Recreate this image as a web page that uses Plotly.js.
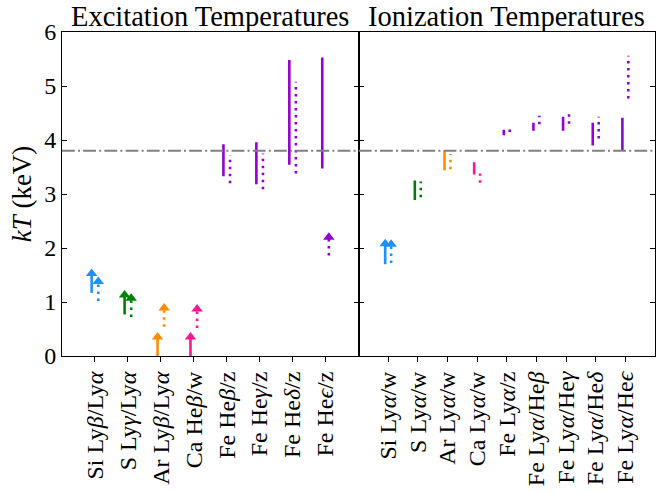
<!DOCTYPE html>
<html>
<head>
<meta charset="utf-8">
<script src="https://cdn.plot.ly/plotly-3.0.1.min.js"></script>
<style>html,body{margin:0;padding:0;background:#fff;}#chart{width:662px;height:493px;}</style>
</head>
<body>
<div id="chart"></div>
<script>
// ---- Data ----
const excCats = ['Si Ly<i>β</i>/Ly<i>α</i>', 'S Ly<i>γ</i>/Ly<i>α</i>', 'Ar Ly<i>β</i>/Ly<i>α</i>', 'Ca He<i>β</i>/w',
                 'Fe He<i>β</i>/z', 'Fe He<i>γ</i>/z', 'Fe He<i>δ</i>/z', 'Fe He<i>ϵ</i>/z'];
const excColors = ['#1e90ff', '#008000', '#ff8c00', '#ff1493', '#9400d3', '#9400d3', '#9400d3', '#9400d3'];
const excSolidLo = [1.17, 0.77, 0.00, 0.00, 3.33, 3.18, 3.54, 3.47];
const excSolidHi = [1.53, 1.13, 0.35, 0.35, 3.92, 3.96, 5.48, 5.53];
const excSolidLimit = [true, true, true, true, false, false, false, false];
const excDotLo = [1.02, 0.72, 0.54, 0.52, 3.20, 3.09, 3.38, 1.86];
const excDotHi = [1.38, 1.07, 0.89, 0.87, 3.72, 3.75, 5.08, 2.20];
const excDotLimit = [true, true, true, true, false, false, false, true];

const ionCats = ['Si Ly<i>α</i>/w', 'S Ly<i>α</i>/w', 'Ar Ly<i>α</i>/w', 'Ca Ly<i>α</i>/w', 'Fe Ly<i>α</i>/z',
                 'Fe Ly<i>α</i>/He<i>β</i>', 'Fe Ly<i>α</i>/He<i>γ</i>', 'Fe Ly<i>α</i>/He<i>δ</i>', 'Fe Ly<i>α</i>/He<i>ϵ</i>'];
const ionColors = ['#1e90ff', '#008000', '#ff8c00', '#ff1493', '#9400d3', '#9400d3', '#9400d3', '#9400d3', '#9400d3'];
const ionSolidLo = [1.70, 2.89, 3.44, 3.36, 4.09, 4.17, 4.17, 3.90, 3.81];
const ionSolidHi = [2.08, 3.25, 3.80, 3.59, 4.19, 4.32, 4.43, 4.32, 4.41];
const ionSolidLimit = [true, false, false, false, false, false, false, false, false];
const ionDotLo = [1.72, 2.94, 3.46, 3.21, 4.15, 4.29, 4.30, 4.03, 4.77];
const ionDotHi = [2.07, 3.23, 3.74, 3.38, 4.20, 4.45, 4.55, 4.43, 5.56];
const ionDotLimit = [true, false, false, false, false, false, false, false, false];

const refTemp = 3.8;
const yTicks = [0, 1, 2, 3, 4, 5, 6];

// ---- Build traces ----
const OFF = 0.1;
const DOT_DASH = '2.5px,4.5px';
const traces = [];
function addSeries(cats, colors, lo, hi, lim, offset, dash, xa, ya) {
  cats.forEach((c, i) => {
    const x = i + 1 + offset;
    traces.push({
      type: 'scatter', mode: 'lines', x: [x, x], y: [lo[i], hi[i]],
      xaxis: xa, yaxis: ya, showlegend: false, hoverinfo: 'skip',
      line: {color: colors[i], width: 2.6, dash: dash}
    });
    if (lim[i]) {
      traces.push({
        type: 'scatter', mode: 'markers', x: [x], y: [hi[i]],
        xaxis: xa, yaxis: ya, showlegend: false, hoverinfo: 'skip',
        marker: {symbol: 'triangle-up', size: 10, color: colors[i], line: {width: 0}}
      });
    }
  });
}
addSeries(excCats, excColors, excSolidLo, excSolidHi, excSolidLimit, -OFF, 'solid', 'x', 'y');
addSeries(excCats, excColors, excDotLo, excDotHi, excDotLimit, OFF, DOT_DASH, 'x', 'y');
addSeries(ionCats, ionColors, ionSolidLo, ionSolidHi, ionSolidLimit, -OFF, 'solid', 'x2', 'y2');
addSeries(ionCats, ionColors, ionDotLo, ionDotHi, ionDotLimit, OFF, DOT_DASH, 'x2', 'y2');

const FONT = 'Liberation Serif, DejaVu Serif, serif';
const xTickFont = {family: FONT, size: 24, color: '#000'};
const yTickFont = {family: FONT, size: 24, color: '#000'};

const xCommon = {
  showline: true, linecolor: '#000', linewidth: 1, mirror: true,
  ticks: 'outside', ticklen: 5, tickwidth: 1, tickcolor: '#000',
  tickangle: -90, tickfont: xTickFont, showgrid: false, zeroline: false, fixedrange: true
};
const yCommon = {
  range: [0, 6], tickvals: yTicks, showline: true, linecolor: '#000', linewidth: 1,
  mirror: 'ticks', ticks: 'inside', ticklen: 5, tickwidth: 1, tickcolor: '#000',
  tickfont: yTickFont, showgrid: false, zeroline: false, fixedrange: true
};

const layout = {
  width: 662, height: 493,
  margin: {l: 62, r: 7, t: 32, b: 137},
  paper_bgcolor: '#fff', plot_bgcolor: '#fff',
  font: {family: FONT, color: '#000'},
  showlegend: false,
  xaxis: Object.assign({}, xCommon, {domain: [0, 0.5], range: [0, 9], anchor: 'y',
    tickvals: excCats.map((c, i) => i + 1), ticktext: excCats}),
  xaxis2: Object.assign({}, xCommon, {domain: [0.5, 1], range: [0, 10], anchor: 'y2',
    tickvals: ionCats.map((c, i) => i + 1), ticktext: ionCats}),
  yaxis: Object.assign({}, yCommon, {anchor: 'x',
    title: {text: '<i>kT</i> (keV)', font: {family: FONT, size: 27, color: '#000'}, standoff: 4}}),
  yaxis2: Object.assign({}, yCommon, {anchor: 'x2', showticklabels: false}),
  shapes: [{
    type: 'line', xref: 'paper', x0: 0, x1: 1, yref: 'y', y0: refTemp, y1: refTemp,
    line: {color: '#808080', width: 2, dash: '12.8px,3.2px,2px,3.2px'}, layer: 'above'
  }],
  annotations: [
    {text: 'Excitation Temperatures', xref: 'paper', yref: 'paper', x: 0.25, y: 1, yanchor: 'bottom',
     xanchor: 'center', showarrow: false, yshift: -2, font: {family: FONT, size: 28.5, color: '#000'}},
    {text: 'Ionization Temperatures', xref: 'paper', yref: 'paper', x: 0.75, y: 1, yanchor: 'bottom',
     xanchor: 'center', showarrow: false, yshift: -2, font: {family: FONT, size: 28.5, color: '#000'}}
  ]
};

Plotly.newPlot('chart', traces, layout, {staticPlot: true, displayModeBar: false});
</script>
</body>
</html>
